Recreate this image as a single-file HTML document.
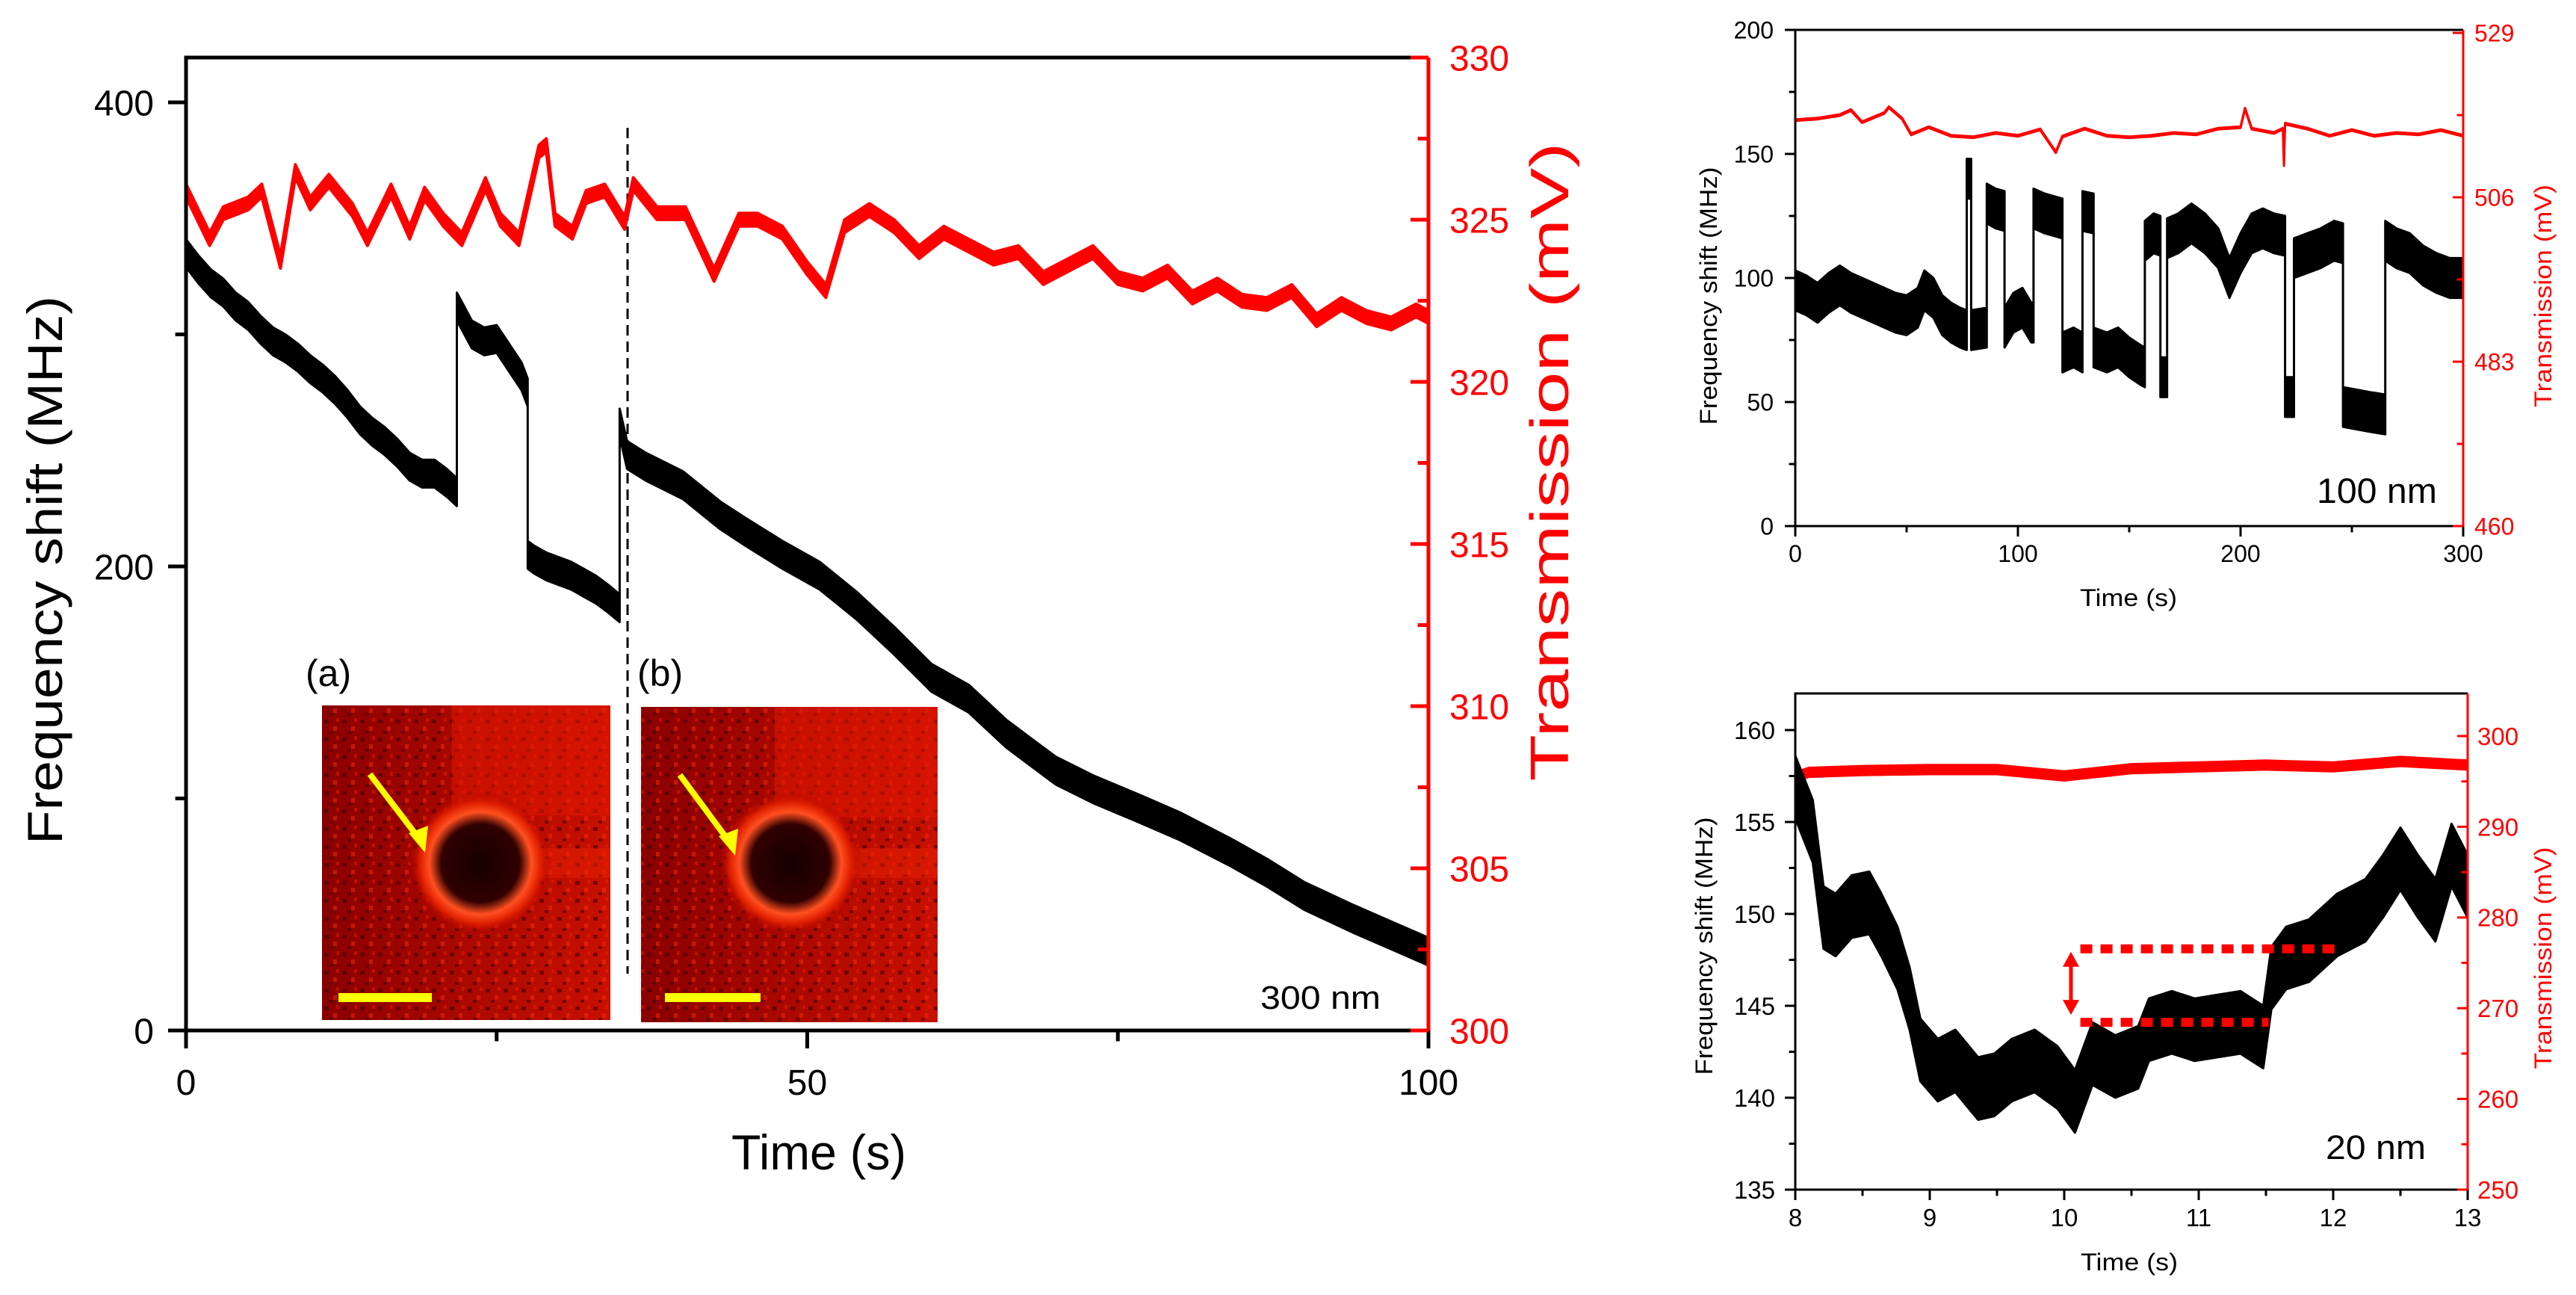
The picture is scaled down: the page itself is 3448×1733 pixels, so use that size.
<!DOCTYPE html>
<html><head><meta charset="utf-8"><style>
html,body{margin:0;padding:0;background:#fff;}
svg{display:block;font-family:"Liberation Sans",Arial,sans-serif;}
</style></head><body>
<svg id="fig" xmlns="http://www.w3.org/2000/svg" width="3448" height="1733" viewBox="0 0 3448 1733">
<defs>
<radialGradient id="ringA" cx="0.5" cy="0.5" r="0.5">
<stop offset="0" stop-color="#150000"/><stop offset="0.55" stop-color="#300000"/><stop offset="0.72" stop-color="#ff5020"/><stop offset="0.85" stop-color="#e02000"/><stop offset="1" stop-color="#b00000" stop-opacity="0"/>
</radialGradient>
<linearGradient id="bgA" x1="0" y1="0" x2="1" y2="0">
<stop offset="0" stop-color="#8a0000"/><stop offset="0.6" stop-color="#b00a00"/><stop offset="1" stop-color="#c81000"/>
</linearGradient>
<pattern id="speck" width="24" height="24" patternUnits="userSpaceOnUse">
<rect width="24" height="24" fill="none"/>
<rect x="2" y="3" width="6" height="5" fill="#400000" opacity="0.6"/>
<rect x="14" y="12" width="5" height="6" fill="#ff3010" opacity="0.45"/>
<rect x="9" y="18" width="5" height="4" fill="#300000" opacity="0.5"/>
<rect x="18" y="1" width="4" height="5" fill="#ff2000" opacity="0.4"/>
</pattern>
</defs>
<g id="main"></g>
<g id="tr"></g>
<g id="br"></g>
</svg>
<script>
// ===== Main chart data =====
const mainBlackT = [0,1,2,3,4,5,6,7,8,9,10,11,12,13,14,15,16,17,18,19,20,21,21.8,21.8,22.5,23,24,25,26,27,27.5,27.5,28,29,30,31,32,33,34,34.9,34.9,35.5,37,40,43,45,48,51,54,57,60,63,66,68,70,73,77,80,84,87,90,94,97,100];
const mainBlackF = [335,328,322,318,312,308,302,297,294,290,285,281,276,270,263,258,254,249,243,240,240,236,232,312,305,300,297,298,290,282,275,205,203,200,198,196,193,190,186,182,262,248,243,235,222,215,205,196,183,168,152,143,128,120,112,104,95,88,77,68,58,48,41,34];
const mainRedT = [0,1.9,3,5,6.1,7.6,8.8,10,11.5,13.4,14.6,16.5,18,19.2,20.7,22.2,24.1,25.3,26.8,28.4,29,29.7,31.1,32.2,33.7,35.3,36,37.9,40.2,42.5,44.5,46,48,50,51.5,53,55,57,59,61,63,65,67,69,71,73,75,77,79,81,83,85,87,89,91,93,95,97,99,100];
const mainRedV = [325.9,324.4,325.2,325.5,325.9,323.7,326.5,325.5,326.2,325.3,324.4,325.9,324.6,325.8,325.0,324.4,326.1,325.0,324.4,327.1,327.3,325.0,324.6,325.7,325.9,324.9,326.1,325.2,325.2,323.3,325.0,325.0,324.6,323.5,322.8,324.8,325.3,324.8,324.0,324.6,324.2,323.8,324.0,323.2,323.6,324.0,323.2,323.0,323.4,322.6,323.0,322.5,322.4,322.8,321.9,322.4,322.0,321.8,322.2,322.0];
const mainXTicks = [0,50,100];
const mainYTicks = [0,200,400];
const mainRTicks = [300,305,310,315,320,325,330];
// ===== Top-right chart data =====
const trBlackT = [0,5,10,15,20,25,30,35,40,45,50,55,58,62,66,70,74,77,77,79,79,86,86,90,94,94,98,102,106,107,107,112,116,120,120,125,129,129,134,134,140,145,150,155,157,157,161,164,164,167,167,172,178,184,190,195,200,205,210,215,220,220,224,224,230,236,242,246,246,252,258,265,265,270,276,282,288,294,300];
const trBlackF = [95,93,90,94,97,94,92,90,88,86,85,88,95,92,85,82,80,79,140,140,79,80,130,128,127,80,86,88,82,82,128,126,125,124,70,72,70,127,126,72,70,72,68,65,64,115,118,117,60,60,116,118,122,118,112,100,110,118,120,118,117,52,52,108,110,112,115,114,48,47,46,45,115,112,110,105,102,100,100];
const trRedT = [0,10,20,25,30,40,42,48,52,60,70,80,90,100,110,117,120,130,140,150,160,170,180,190,200,202,205,215,219,219.5,220,230,240,250,260,270,280,290,300];
const trRedV = [516.8,517,517.5,518.2,516.5,517.8,518.6,517,514.8,515.8,514.6,514.4,515,514.6,515.5,512.3,514.5,515.6,514.6,514.4,514.6,515,514.8,515.6,515.8,518.4,515.6,515,515.6,510.5,516.3,515.6,514.6,515.4,514.6,515,514.8,515.4,514.6];
const trXTicks = [0,100,200,300];
const trYTicks = [0,50,100,150,200];
const trRTicks = [460,483,506,529];
// ===== Bottom-right chart data =====
const brBlackT = [8.0,8.13,8.21,8.30,8.42,8.55,8.64,8.76,8.85,8.93,9.06,9.19,9.36,9.48,9.61,9.78,9.95,10.08,10.21,10.38,10.55,10.63,10.80,10.97,11.14,11.31,11.48,11.54,11.65,11.82,12.03,12.24,12.37,12.50,12.63,12.76,12.88,13.0];
const brBlackF = [156.9,154.5,149.8,149.4,150.4,150.6,149.4,147.6,145.4,142.6,141.5,142.0,140.5,140.7,141.5,142.0,141.1,139.8,142.4,141.7,142.2,143.7,144.1,143.7,143.9,144.1,143.3,146.5,147.6,148.0,149.4,150.2,151.5,153.0,151.5,150.2,153.2,151.5];
const brRedT = [8,8.1,8.5,9,9.5,10,10.5,11,11.5,12,12.5,13];
const brRedV = [295.5,296,296.2,296.3,296.3,295.6,296.4,296.6,296.8,296.6,297.2,296.8];
const brXTicks = [8,9,10,11,12,13];
const brYTicks = [135,140,145,150,155,160];
const brRTicks = [250,260,270,280,290,300];
const brLevels = [148.1,144.1];

const NS='http://www.w3.org/2000/svg';
function mk(parent, tag, attrs, text){
  const e=document.createElementNS(NS,tag);
  for(const k in attrs) e.setAttribute(k,attrs[k]);
  if(text!==undefined) e.textContent=text;
  parent.appendChild(e); return e;
}
function lin(d0,d1,r0,r1){return v=>r0+(v-d0)*(r1-r0)/(d1-d0);}
function bandOf(ts,vs,sx,sy,h){
  let d='';
  for(let i=0;i<ts.length;i++){d+=(i?'L':'M')+sx(ts[i]).toFixed(1)+','+sy(vs[i]+h).toFixed(1);}
  for(let i=ts.length-1;i>=0;i--){d+='L'+sx(ts[i]).toFixed(1)+','+sy(vs[i]-h).toFixed(1);}
  return d+'Z';
}

function chart(g,c){
  const sx=lin(c.x0,c.x1,c.L,c.R), sy=lin(c.y0,c.y1,c.B,c.T), sr=lin(c.r0,c.r1,c.B,c.T);
  let p=mk(g,'path',{d:bandOf(c.redT,c.redV,sx,sr,c.redH),fill:'#ff0000',stroke:'#ff0000','stroke-width':c.redW,'stroke-linejoin':'round'});
  
  
  p=mk(g,'path',{d:bandOf(c.blkT,c.blkF,sx,sy,c.blkH),fill:'#000',stroke:'#000','stroke-width':c.blkW,'stroke-linejoin':'round'});
  
  
  mk(g,'line',{x1:c.L,y1:c.T,x2:c.R,y2:c.T,stroke:'#000','stroke-width':c.fw});
  mk(g,'line',{x1:c.L,y1:c.B,x2:c.R,y2:c.B,stroke:'#000','stroke-width':c.fw});
  mk(g,'line',{x1:c.L,y1:c.T-c.fw/2,x2:c.L,y2:c.B+c.fw/2,stroke:'#000','stroke-width':c.fw});
  mk(g,'line',{x1:c.R,y1:c.T,x2:c.R,y2:c.B+c.fw/2,stroke:'#ff0000','stroke-width':c.fw});
  c.xTicks.forEach((v,i)=>{
    const x=sx(v);
    mk(g,'line',{x1:x,y1:c.B,x2:x,y2:c.B+c.tl,stroke:'#000','stroke-width':c.fw});
    if(i<c.xTicks.length-1){const xm=sx((v+c.xTicks[i+1])/2);mk(g,'line',{x1:xm,y1:c.B,x2:xm,y2:c.B+c.tl*0.6,stroke:'#000','stroke-width':c.fw});}
    const t=mk(g,'text',{x:x,y:c.xly,'font-size':c.fs,'text-anchor':'middle',fill:'#000'},String(v));
    
    
  });
  c.yTicks.forEach((v,i)=>{
    const y=sy(v);
    mk(g,'line',{x1:c.L-c.tl,y1:y,x2:c.L,y2:y,stroke:'#000','stroke-width':c.fw});
    if(i<c.yTicks.length-1){const ym=sy((v+c.yTicks[i+1])/2);mk(g,'line',{x1:c.L-c.tl*0.6,y1:ym,x2:c.L,y2:ym,stroke:'#000','stroke-width':c.fw});}
    const t=mk(g,'text',{x:c.ylx,y:y+c.fs*0.36,'font-size':c.fs,'text-anchor':'end',fill:'#000'},String(v));
    
    
  });
  c.rTicks.forEach((v,i)=>{
    const y=sr(v);
    mk(g,'line',{x1:c.R-c.tl,y1:y,x2:c.R,y2:y,stroke:'#ff0000','stroke-width':c.fw});
    if(i<c.rTicks.length-1){const ym=sr((v+c.rTicks[i+1])/2);mk(g,'line',{x1:c.R-c.tl*0.6,y1:ym,x2:c.R,y2:ym,stroke:'#ff0000','stroke-width':c.fw});}
    const t=mk(g,'text',{x:c.rlx,y:y+c.fs*0.36,'font-size':c.fs,'text-anchor':'start',fill:'#ff0000'},String(v));
    
    
  });
  let t=mk(g,'text',{x:(c.xt[0]),y:c.xt[1],'font-size':c.tfs,'text-anchor':'middle',textLength:c.xt[2],lengthAdjust:'spacingAndGlyphs',fill:'#000'},'Time (s)');
  
  
  t=mk(g,'text',{x:0,y:0,'font-size':c.tfs,'text-anchor':'middle',textLength:c.yt[2],lengthAdjust:'spacingAndGlyphs',fill:'#000',transform:`translate(${c.yt[0]},${c.yt[1]}) rotate(-90)`,'dominant-baseline':'central'},'Frequency shift (MHz)');
  
  
  t=mk(g,'text',{x:0,y:0,'font-size':c.rfs||c.tfs,'text-anchor':'middle',textLength:c.rt[2],lengthAdjust:'spacingAndGlyphs',fill:'#ff0000',transform:`translate(${c.rt[0]},${c.rt[1]}) rotate(-90)`,'dominant-baseline':'central'},'Transmission (mV)');
  
  
  t=mk(g,'text',{x:c.lab[0],y:c.lab[1],'font-size':c.lab[3],textLength:c.lab[2],lengthAdjust:'spacingAndGlyphs',fill:'#000'},c.lab[4]);
  
  
  return {sx,sy,sr};
}

const gm=document.getElementById('main');
function inset(g,x,y,w,h,cx,cy,a,bar,name){
  const gi=mk(g,'g',{});
  
  
  mk(gi,'rect',{x:x,y:y,width:w,height:h,fill:'url(#bgA)'});
  mk(gi,'rect',{x:x,y:y,width:w,height:h,fill:'url(#speck)'});
  mk(gi,'rect',{x:x+w*0.45,y:y,width:w*0.55,height:h*0.35,fill:'#e01800',opacity:0.55});
  mk(gi,'rect',{x:cx,y:cy-20,width:x+w-cx,height:40,fill:'#e82000',opacity:0.5});
  mk(gi,'circle',{cx:cx,cy:cy,r:95,fill:'url(#ringA)'});
  mk(gi,'line',{x1:a[0],y1:a[1],x2:a[2]-6,y2:a[3]-16,stroke:'#ffff00','stroke-width':8});
  mk(gi,'polygon',{points:`${a[2]},${a[3]} ${a[2]-22},${a[3]-26} ${a[2]+4},${a[3]-36}`,fill:'#ffff00'});
  mk(gi,'rect',{x:bar[0],y:bar[1]-6,width:bar[2]-bar[0],height:12,fill:'#ffff00'});
}
inset(gm,431,944,386,421,643,1155,[495,1036,569,1141],[453,1335,578],'inset-image-a');
inset(gm,858,946,397,422,1058,1155,[910,1037,984,1145],[890,1335,1018],'inset-image-b');
let lt=mk(gm,'text',{x:409,y:918,'font-size':50,fill:'#000'},'(a)');


lt=mk(gm,'text',{x:853,y:918,'font-size':50,fill:'#000'},'(b)');


let dl=mk(gm,'line',{x1:840,y1:171,x2:840,y2:1303,stroke:'#000','stroke-width':3,'stroke-dasharray':'14 8'});



chart(gm,{L:249,R:1912,T:77,B:1379,x0:0,x1:100,y0:0,y1:200*(1379-77)/621,r0:300,r1:330,
  redT:mainRedT,redV:mainRedV,blkT:mainBlackT,blkF:mainBlackF,redW:4,redH:0.2,blkW:3,blkH:6,fw:5,tl:24,fs:48,
  xTicks:mainXTicks,yTicks:mainYTicks,rTicks:mainRTicks,xly:1465,ylx:206,rlx:1940,
  tfs:66,xt:[1096,1565,234],yt:[60,763,734],rt:[2075,618,855],rfs:72,lab:[1687,1350,161,44,'300 nm']});

chart(document.getElementById('tr'),{L:2403,R:3297,T:40,B:704,x0:0,x1:300,y0:0,y1:200,r0:460,r1:460+69*(704-40)/660,
  redT:trRedT,redV:trRedV,blkT:trBlackT,blkF:trBlackF,redW:3,redH:0.1,blkW:3,blkH:8,fw:3,tl:14,fs:32,
  xTicks:trXTicks,yTicks:trYTicks,rTicks:trRTicks,xly:752,ylx:2374,rlx:3312,
  tfs:32,xt:[2849,811,130],yt:[2287,396,345],rt:[3404,396,298],lab:[3101,673,161,47,'100 nm']});

const brS=chart(document.getElementById('br'),{L:2403,R:3303,T:928,B:1592,x0:8,x1:13,y0:135,y1:135+25*(1592-928)/615,r0:250,r1:250+50*(1592-928)/607,
  redT:brRedT,redV:brRedV,blkT:brBlackT,blkF:brBlackF,redW:3,redH:0.5,blkW:3,blkH:1.7,fw:3,tl:14,fs:33,
  xTicks:brXTicks,yTicks:brYTicks,rTicks:brRTicks,xly:1641,ylx:2376,rlx:3316,
  tfs:32,xt:[2850,1700,130],yt:[2281,1266,345],rt:[3404,1282,297],lab:[3113,1551,134,45,'20 nm']});
const gbr=document.getElementById('br');
const lvEnd=[12.01,11.52];
brLevels.forEach((v,i)=>{
  const y=brS.sy(v);
  const l=mk(gbr,'line',{x1:brS.sx(10.12),y1:y,x2:brS.sx(lvEnd[i]),y2:y,stroke:'#ff0000','stroke-width':12,'stroke-dasharray':'16 11'});
  
  
});
const ax=brS.sx(10.05), ay1=brS.sy(brLevels[0])+4, ay2=brS.sy(brLevels[1])-10;
const ar=mk(gbr,'g',{});


mk(ar,'line',{x1:ax,y1:ay1+16,x2:ax,y2:ay2-16,stroke:'#ff0000','stroke-width':5});
mk(ar,'polygon',{points:`${ax},${ay1} ${ax-11},${ay1+20} ${ax+11},${ay1+20}`,fill:'#ff0000'});
mk(ar,'polygon',{points:`${ax},${ay2} ${ax-11},${ay2-20} ${ax+11},${ay2-20}`,fill:'#ff0000'});
</script>
</body></html>
